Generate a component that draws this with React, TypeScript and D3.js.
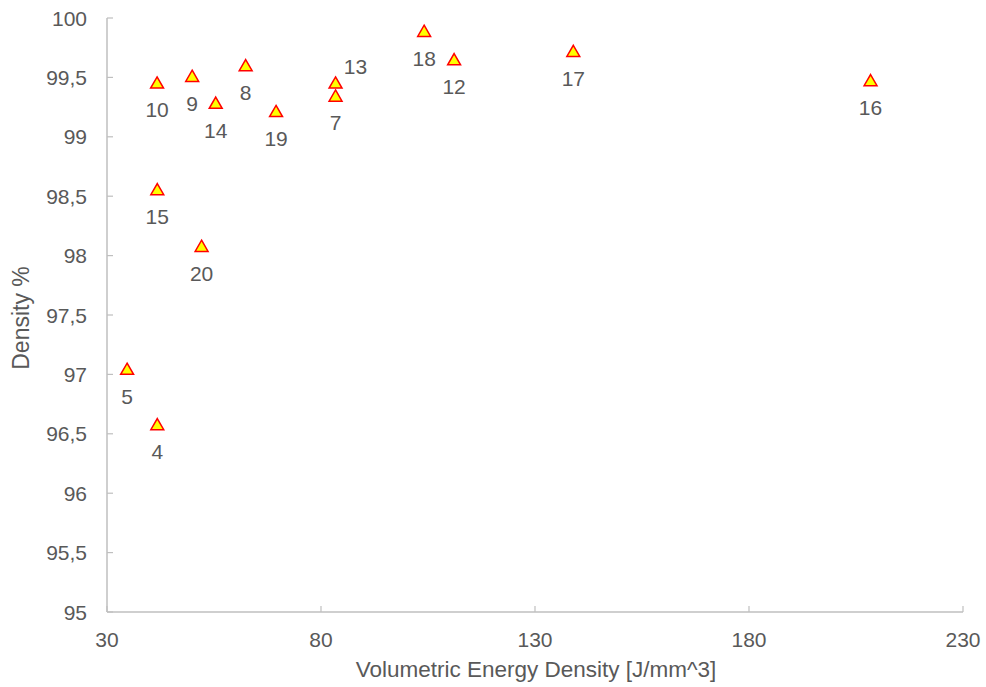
import React from "react";
import * as d3 from "d3";

const sampleIds = ["5", "4", "10", "15", "9", "14", "20", "8", "19", "13", "7", "18", "12", "17", "16"];
const energyDensity = [34.7, 41.75, 41.7, 41.75, 49.9, 55.4, 52.1, 62.4, 69.5, 83.4, 83.4, 104.1, 111.1, 138.95, 208.4];
const densityPct = [97.04, 96.574, 99.45, 98.552, 99.506, 99.28, 98.075, 99.596, 99.21, 99.45, 99.34, 99.885, 99.646, 99.716, 99.47];
const labelPlacement = ["below", "below", "below", "below", "below", "below", "below", "below", "below", "aboveRight", "below", "below", "below", "below", "below"];
const xTicks = [30, 80, 130, 180, 230];
const yTicks = [95, 95.5, 96, 96.5, 97, 97.5, 98, 98.5, 99, 99.5, 100];

const W = 986;
const H = 687;
const FONT = "Arial, 'Liberation Sans', sans-serif";
const TEXT = "#595959";
const AXIS = "#bfbfbf";

export default function App() {
  const x = d3.scaleLinear().domain([30, 230]).range([107, 963]);
  const y = d3.scaleLinear().domain([95, 100]).range([612, 18]);
  const fmt = (v: number) => String(v).replace(".", ",");
  const tri = d3.symbol().type(d3.symbolTriangle).size(72)();

  return (
    <svg width={W} height={H} style={{ position: "absolute", left: 0, top: 0, background: "#fff" }} fontFamily={FONT}>
      <rect width={W} height={H} fill="#fff" />
      {/* axes */}
      <line x1={x(30)} x2={x(230)} y1={y(95)} y2={y(95)} stroke={AXIS} strokeWidth={1.5} />
      <line x1={x(30)} x2={x(30)} y1={y(95)} y2={y(100)} stroke={AXIS} strokeWidth={1.5} />
      {xTicks.map((t) => (
        <g key={"xt" + t}>
          <line x1={x(t)} x2={x(t)} y1={y(95)} y2={y(95) - 6} stroke={AXIS} strokeWidth={1.2} />
          <text x={x(t)} y={y(95) + 35} textAnchor="middle" fontSize={21} fill={TEXT}>{t}</text>
        </g>
      ))}
      {yTicks.map((t) => (
        <g key={"yt" + t}>
          <line x1={x(30)} x2={x(30) + 6} y1={y(t)} y2={y(t)} stroke={AXIS} strokeWidth={1.2} />
          <text x={87} y={y(t) + 7.5} textAnchor="end" fontSize={21} fill={TEXT}>{fmt(t)}</text>
        </g>
      ))}
      <text x={536} y={677} textAnchor="middle" fontSize={22.5} fill={TEXT}>Volumetric Energy Density [J/mm^3]</text>
      <text transform={`translate(29,318) rotate(-90)`} textAnchor="middle" fontSize={23} fill={TEXT}>Density %</text>
      {/* points */}
      {energyDensity.map((e, i) => {
        const cx = x(e);
        const cy = y(densityPct[i]);
        const pos = labelPlacement[i];
        const lx = pos === "aboveRight" ? cx + 20 : cx;
        const ly = pos === "aboveRight" ? cy - 9 : cy + 34;
        return (
          <g key={"p" + i}>
            <path d={tri as string} transform={`translate(${cx},${cy + 1})`} fill="#ffff00" stroke="#ff0000" strokeWidth={1.5} />
            <text x={lx} y={ly} textAnchor="middle" fontSize={21} fill={TEXT}>{sampleIds[i]}</text>
          </g>
        );
      })}
    </svg>
  );
}
